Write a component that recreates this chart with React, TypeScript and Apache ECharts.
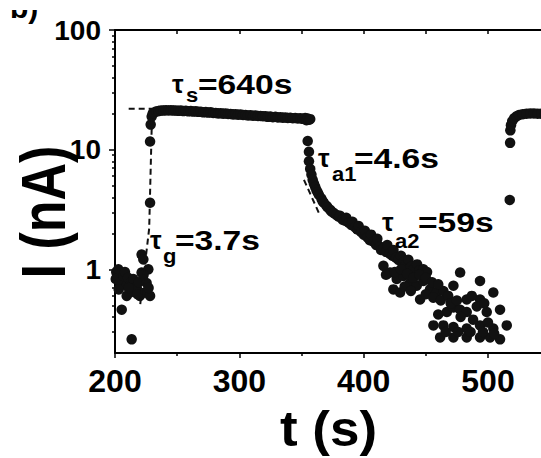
import React, { useEffect, useRef } from 'react';
import * as echarts from 'echarts';

const FONT = '"Liberation Sans", Arial, sans-serif';

// axis ticks / labels
const xMin = 200;
const xMax = 600;
const xLabelMax = 500;
const yMajorTicks = [1, 10, 100];
const yMinorTicks = [0.3, 0.4, 0.5, 0.6, 0.7, 0.8, 0.9, 2, 3, 4, 5, 6, 7, 8, 9, 20, 30, 40, 50, 60, 70, 80, 90];

// off state before illumination (t, I)
const offData = [
  [201, 0.95], [202.7, 1.0], [200.6, 0.83], [204, 0.78], [206.7, 0.88], [208, 0.95], [209.4, 0.73],
  [210.5, 0.85], [212, 0.64], [213, 0.78], [214.7, 0.83], [216, 0.7], [217.5, 0.7], [219, 0.78],
  [220, 0.6], [221.4, 0.94], [221.4, 1.33], [222.8, 1.21], [224.1, 0.64], [225.4, 0.77],
  [226.8, 1.0], [228.2, 0.6], [227, 0.7], [205.4, 0.46], [213.4, 0.26], [209.4, 0.6], [203, 0.68],
  [211, 0.7], [223, 0.9], [218, 0.62],
];

// rise
const riseData = [[228.2, 3.6], [228.2, 11.7], [228.7, 16.2], [229.5, 18.9], [230.3, 20.0]];

// plateau under light
const plateauData = [
  [231, 20.3], [233, 20.8], [235, 21.0], [237, 21.3], [239, 21.2], [241, 21.4], [243, 21.3],
  [245, 21.4], [247, 21.2], [249, 21.3], [251, 21.1], [253, 21.2], [255, 21.0], [257, 21.1],
  [259, 20.9], [261, 21.0], [263, 20.8], [265, 20.9], [267, 20.7], [269, 20.7], [271, 20.5],
  [273, 20.6], [275, 20.4], [277, 20.5], [279, 20.3], [281, 20.3], [283, 20.1], [285, 20.2],
  [287, 20.0], [289, 20.1], [291, 19.9], [293, 19.9], [295, 19.7], [297, 19.8], [299, 19.6],
  [301, 19.7], [303, 19.5], [305, 19.5], [307, 19.3], [309, 19.4], [311, 19.2], [313, 19.3],
  [315, 19.1], [317, 19.1], [319, 19.0], [321, 19.0], [323, 18.8], [325, 18.9], [327, 18.7],
  [329, 18.8], [331, 18.6], [333, 18.7], [335, 18.5], [337, 18.6], [339, 18.4], [341, 18.5],
  [343, 18.3], [345, 18.4], [347, 18.2], [349, 18.3], [351, 18.1], [353, 18.4], [354, 17.6],
  [355, 18.2], [356, 17.8], [357, 18.0],
];

// decay after light off
const decayData = [
  [355, 11.8], [356, 9.6], [356, 8.0], [357, 6.9], [358, 6.2], [359, 5.6], [360, 5.2], [361, 4.9],
  [362, 4.6], [363, 4.4], [364, 4.2], [366, 3.9], [367, 3.7], [368, 3.6], [370, 3.4], [371, 3.3],
  [373, 3.15], [374, 3.05], [376, 2.95], [378, 2.85], [380, 2.75], [381, 2.8], [383, 2.6],
  [385, 2.55], [386, 2.7], [388, 2.45], [390, 2.35], [391, 2.5], [393, 2.25], [395, 2.15],
  [396, 2.3], [398, 2.05], [400, 1.95], [401, 2.1], [403, 1.85], [405, 1.75], [406, 1.95],
  [408, 1.7], [410, 1.6], [411, 1.8], [413, 1.55], [414, 1.45], [416, 1.5], [418, 1.4],
  [419, 1.6], [421, 1.35], [423, 1.3], [424, 1.45], [426, 1.25], [428, 1.2], [430, 1.3],
  [432, 1.15], [434, 1.1], [436, 1.2], [438, 1.05], [440, 1.0], [443, 1.1], [445, 0.98],
  [448, 1.0], [451, 0.95],
];

// scattered low-current cloud
const cloudData = [
  [415.9, 1.07], [421.2, 0.94], [426.6, 0.83], [431.9, 0.88], [437.3, 0.77], [442.7, 0.73],
  [448, 0.8], [453.4, 0.68], [458.8, 0.64], [464.1, 0.66], [472.2, 0.73], [477.6, 0.94],
  [493.6, 0.8], [482.9, 0.56], [504.3, 0.64], [509.7, 0.46], [499, 0.44], [466.9, 0.44],
  [472.2, 0.48], [477.6, 0.46], [482.9, 0.44], [456.1, 0.34], [464.1, 0.34], [472.2, 0.33],
  [482.9, 0.32], [493.6, 0.34], [504.3, 0.32], [515.1, 0.34], [461.5, 0.27], [472.2, 0.27],
  [482.9, 0.27], [493.6, 0.27], [501.7, 0.27], [509.7, 0.26], [423.9, 0.68], [429.3, 0.64],
  [445.4, 0.56], [493.6, 0.56], [491, 0.49], [418, 0.9], [425, 0.95], [430, 1.0], [435, 0.92],
  [440, 0.85], [445, 0.9], [450, 0.85], [455, 0.78], [460, 0.75], [433, 0.72], [438, 0.66],
  [450, 0.62], [456, 0.58], [462, 0.55], [468, 0.6], [470, 0.52], [475, 0.55], [487, 0.6],
  [497, 0.52], [460, 0.42], [478, 0.4], [488, 0.38], [500, 0.36], [466, 0.3], [476, 0.3],
  [486, 0.3], [496, 0.3], [505, 0.29],
];

// second illumination
const rise2Data = [
  [517.5, 3.8], [517.8, 11.4], [518, 14.5], [518.5, 16], [519.5, 17.3], [521, 18.3], [523, 19.0],
  [525, 19.5], [528, 19.8], [531, 20.0], [534, 20.1], [537, 20.1], [540, 20.0], [543, 20.0],
  [546, 19.9],
];

// fit lines
const fitS = [[211, 22], [232, 22]];
const fitG = [[229.9, 22], [227.5, 2.2], [220, 0.48]];
const fitA1 = [[352, 5.6], [365, 2.8]];

const CHART_W = 620;
const CHART_H = 458;

const dot = (data: number[][]) => ({
  type: 'scatter',
  data,
  symbol: 'circle',
  symbolSize: 10.5,
  itemStyle: { color: '#111', opacity: 1 },
  silent: true,
});

const dash = (data: number[][]) => ({
  type: 'line',
  data,
  symbol: 'none',
  lineStyle: { color: '#111', width: 2, type: [6, 4] },
  silent: true,
});

const txt = (text: string, x: number, y: number, size: number, sx = 1, extra: any = {}) => ({
  type: 'text',
  x,
  y,
  scaleX: sx,
  z: 100,
  style: {
    text,
    fontSize: size,
    fontWeight: 'bold',
    fontFamily: FONT,
    fill: '#000',
    align: 'left',
    verticalAlign: 'middle',
    ...extra,
  },
});

export default function App() {
  const ref = useRef<HTMLDivElement>(null);
  useEffect(() => {
    const chart = echarts.init(ref.current!, null, { renderer: 'svg' });
    const isDecade = (v: number) => v >= 1 && Math.abs(Math.log10(v) - Math.round(Math.log10(v))) < 1e-6;
    chart.setOption({
      animation: false,
      backgroundColor: '#fff',
      grid: { left: 115, top: 30, bottom: 105, right: CHART_W - (115 + 497.3) },
      xAxis: [
        {
          type: 'value', min: xMin, max: xMax, interval: 100, position: 'bottom',
          axisLine: { show: true, lineStyle: { color: '#000', width: 2 } },
          axisTick: { show: true, length: 5, lineStyle: { color: '#000', width: 1.5 } },
          minorTick: { show: true, splitNumber: 2, length: 3, lineStyle: { color: '#000', width: 1.5 } },
          axisLabel: {
            formatter: (v: number) => (v <= xLabelMax ? String(v) : ''),
            color: '#000', fontSize: 32, fontWeight: 'bold', fontFamily: FONT, margin: 12,
          },
          splitLine: { show: false },
        },
        {
          type: 'value', min: xMin, max: xMax, interval: 50, position: 'top',
          axisLine: { show: true, lineStyle: { color: '#000', width: 2 } },
          axisTick: { show: true, inside: true, length: 4, lineStyle: { color: '#000', width: 1.5 } },
          axisLabel: { show: false },
          splitLine: { show: false },
        },
      ],
      yAxis: [
        {
          type: 'log', logBase: 10, min: 0.2, max: 100, position: 'left',
          axisLine: { show: true, lineStyle: { color: '#000', width: 2 } },
          axisTick: { show: true, length: 6, customValues: yMajorTicks, lineStyle: { color: '#000', width: 1.5 } },
          axisLabel: {
            customValues: yMajorTicks,
            formatter: (v: number) => (isDecade(v) ? String(Math.round(v)) : ''),
            color: '#000', fontSize: 28, fontWeight: 'bold', fontFamily: FONT, margin: 14,
          },
          splitLine: { show: false },
        },
        {
          type: 'log', logBase: 10, min: 0.2, max: 100, position: 'left',
          axisLine: { show: false },
          axisTick: { show: true, length: 3, customValues: yMinorTicks, lineStyle: { color: '#000', width: 1.5 } },
          axisLabel: { show: false },
          splitLine: { show: false },
        },
      ],
      series: [
        dash(fitS), dash(fitG), dash(fitA1),
        dot(offData), dot(riseData), dot(plateauData), dot(decayData), dot(cloudData), dot(rise2Data),
      ],
      graphic: [
        txt('b)', 10, 7, 30),
        { type: 'rect', z: 101, shape: { x: 0, y: 0, width: 50, height: 10 }, style: { fill: '#fff' } },
        { ...txt('I (nA)', 43, 212, 52, 1, { align: 'center' }), rotation: Math.PI / 2, scaleY: 1.2 },
        txt('t (s)', 328.5, 429, 50, 1.06, { align: 'center' }),
        txt('τ', 172, 84, 26), txt('s', 186, 95, 20, 1.1), txt('=640s', 198, 84, 28, 1.2),
        txt('τ', 150, 240, 26), txt('g', 163, 256, 20, 1.1), txt('=3.7s', 175, 240, 28, 1.2),
        txt('τ', 318, 158, 26), txt('a1', 332, 174, 20, 1.1), txt('=4.6s', 354, 158, 28, 1.2),
        txt('τ', 382, 222, 26), txt('a2', 395, 241, 20, 1.1), txt('=59s', 418, 222, 28, 1.2),
      ],
    });
    return () => chart.dispose();
  }, []);
  return (
    <div style={{ position: 'fixed', left: 0, top: 0, width: 541, height: 458, overflow: 'hidden', background: '#fff' }}>
      <div ref={ref} style={{ width: CHART_W, height: CHART_H }} />
    </div>
  );
}
